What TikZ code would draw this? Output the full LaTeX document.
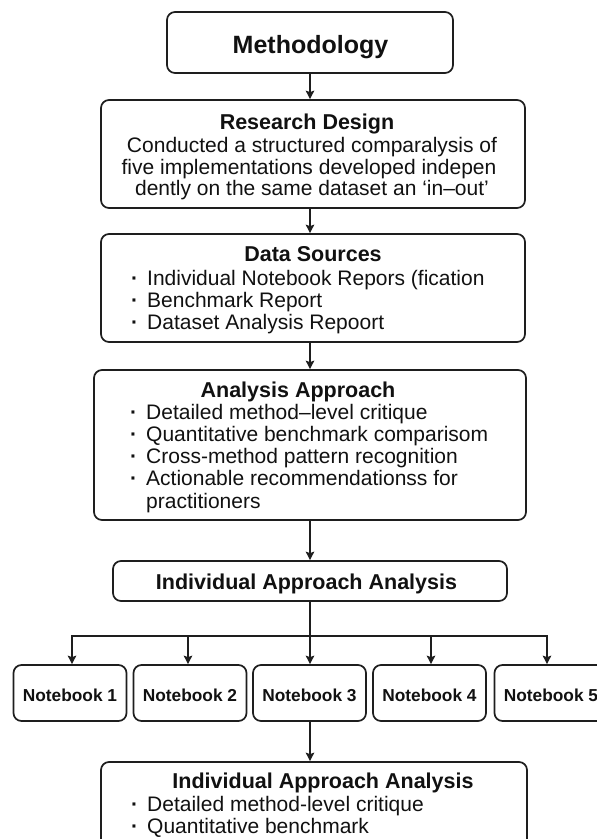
\documentclass[tikz,border=0pt]{standalone}
\usepackage{fontspec}
\setmainfont{Liberation Sans}
\usetikzlibrary{arrows.meta}
\definecolor{ink}{HTML}{111111}
\definecolor{edge}{HTML}{1E1E1E}
\begin{document}
\begin{tikzpicture}[x=1pt,y=-1pt,
  box/.style={draw=edge, line width=1.7pt, rounded corners=8pt, inner sep=0pt, fill=white},
  conn/.style={draw=edge, line width=1.4pt},
  arr/.style={conn, -{Stealth[length=8.5pt,width=8.5pt,inset=1.5pt]}},
  ttl/.style={anchor=base, text=ink, font=\fontsize{21.5}{22}\selectfont\bfseries, inner sep=0pt},
  bigttl/.style={anchor=base, text=ink, font=\fontsize{25}{26}\selectfont\bfseries, inner sep=0pt},
  nbt/.style={anchor=base, text=ink, font=\fontsize{17.3}{18}\selectfont\bfseries, inner sep=0pt},
  ctxt/.style={anchor=base, text=ink, font=\fontsize{21}{22}\selectfont, inner sep=0pt},
  btxt/.style={anchor=base west, text=ink, font=\fontsize{21}{22}\selectfont, inner sep=0pt},
  nbbox/.style={box, minimum width=113pt, minimum height=56pt}
]
\clip (0,0) rectangle (597,839);
\fill[white] (0,0) rectangle (597,839);
\newcommand{\bul}{\llap{{\bfseries\textperiodcentered}\hspace{9pt}}}

\coordinate (spine) at (310,0);

% boxes
\node[box, minimum width=286pt, minimum height=61pt] (meth) at (310,42.5) {};
\node[box, minimum width=424pt, minimum height=108pt] (rd) at (313,154) {};
\node[box, minimum width=424pt, minimum height=108pt] (ds) at (313,288) {};
\node[box, minimum width=432pt, minimum height=150pt] (aa) at (310,445) {};
\node[box, minimum width=394pt, minimum height=40pt] (iaa) at (310,581) {};
\node[nbbox] (nb1) at (70,693) {};
\node[nbbox] (nb2) at (190,693) {};
\node[nbbox] (nb3) at (309.5,693) {};
\node[nbbox] (nb4) at (429.5,693) {};
\node[nbbox] (nb5) at (551,693) {};
\node[box, minimum width=426pt, minimum height=138pt] (fin) at (314,831) {};

% texts
\node[bigttl] (tmeth) at (310.5,53) {Methodology};

\node[ttl] (trd) at (307,129) {Research Design};
\node[ctxt] (rd1) at (312,152) {Conducted a structured comparalysis of};
\node[ctxt] (rd2) at (309,174) {five implementations developed indepen};
\node[ctxt] (rd3) at (312,195) {dently on the same dataset an ‘in–out’};

\node[ttl] (tds) at (313,261) {Data Sources};
\node[btxt] (ds1) at (147,285) {\bul Individual Notebook Repors (fication};
\node[btxt] (ds2) at (147,307) {\bul Benchmark Report};
\node[btxt] (ds3) at (147,329) {\bul Dataset Analysis Repoort};

\node[ttl] (taa) at (298,397) {Analysis Approach};
\node[btxt] (aa1) at (146,419) {\bul Detailed method–level critique};
\node[btxt] (aa2) at (146,441) {\bul Quantitative benchmark comparisom};
\node[btxt] (aa3) at (146,463) {\bul Cross-method pattern recognition};
\node[btxt] (aa4) at (146,485) {\bul Actionable recommendationss for};
\node[btxt] (aa5) at (146,508) {practitioners};

\node[ttl] (tiaa) at (306.5,589) {Individual Approach Analysis};

\node[nbt] (tn1) at (70,701) {Notebook 1};
\node[nbt] (tn2) at (190,701) {Notebook 2};
\node[nbt] (tn3) at (309.5,701) {Notebook 3};
\node[nbt] (tn4) at (429.5,701) {Notebook 4};
\node[nbt] (tn5) at (551,701) {Notebook 5};

\node[ttl] (tfin) at (323,788) {Individual Approach Analysis};
\node[btxt] (fin1) at (147,811) {\bul Detailed method-level critique};
\node[btxt] (fin2) at (147,833) {\bul Quantitative benchmark};

% connectors
\draw[arr] (meth.south -| spine) -- (rd.north -| spine);
\draw[arr] (rd.south -| spine) -- (ds.north -| spine);
\draw[arr] (ds.south -| spine) -- (aa.north -| spine);
\draw[arr] (aa.south -| spine) -- (iaa.north -| spine);

\coordinate (d1) at (72,636);
\coordinate (d2) at (188,636);
\coordinate (d3) at (310,636);
\coordinate (d4) at (431,636);
\coordinate (d5) at (547,636);
\draw[conn] (iaa.south -| spine) -- (d3);
\draw[conn, line cap=rect] (d1) -- (d5);
\draw[arr] (d1) -- (d1 |- nb1.north);
\draw[arr] (d2) -- (d2 |- nb2.north);
\draw[arr] (d3) -- (d3 |- nb3.north);
\draw[arr] (d4) -- (d4 |- nb4.north);
\draw[arr] (d5) -- (d5 |- nb5.north);

\draw[arr] (nb3.south -| spine) -- (fin.north -| spine);
\end{tikzpicture}
\end{document}
